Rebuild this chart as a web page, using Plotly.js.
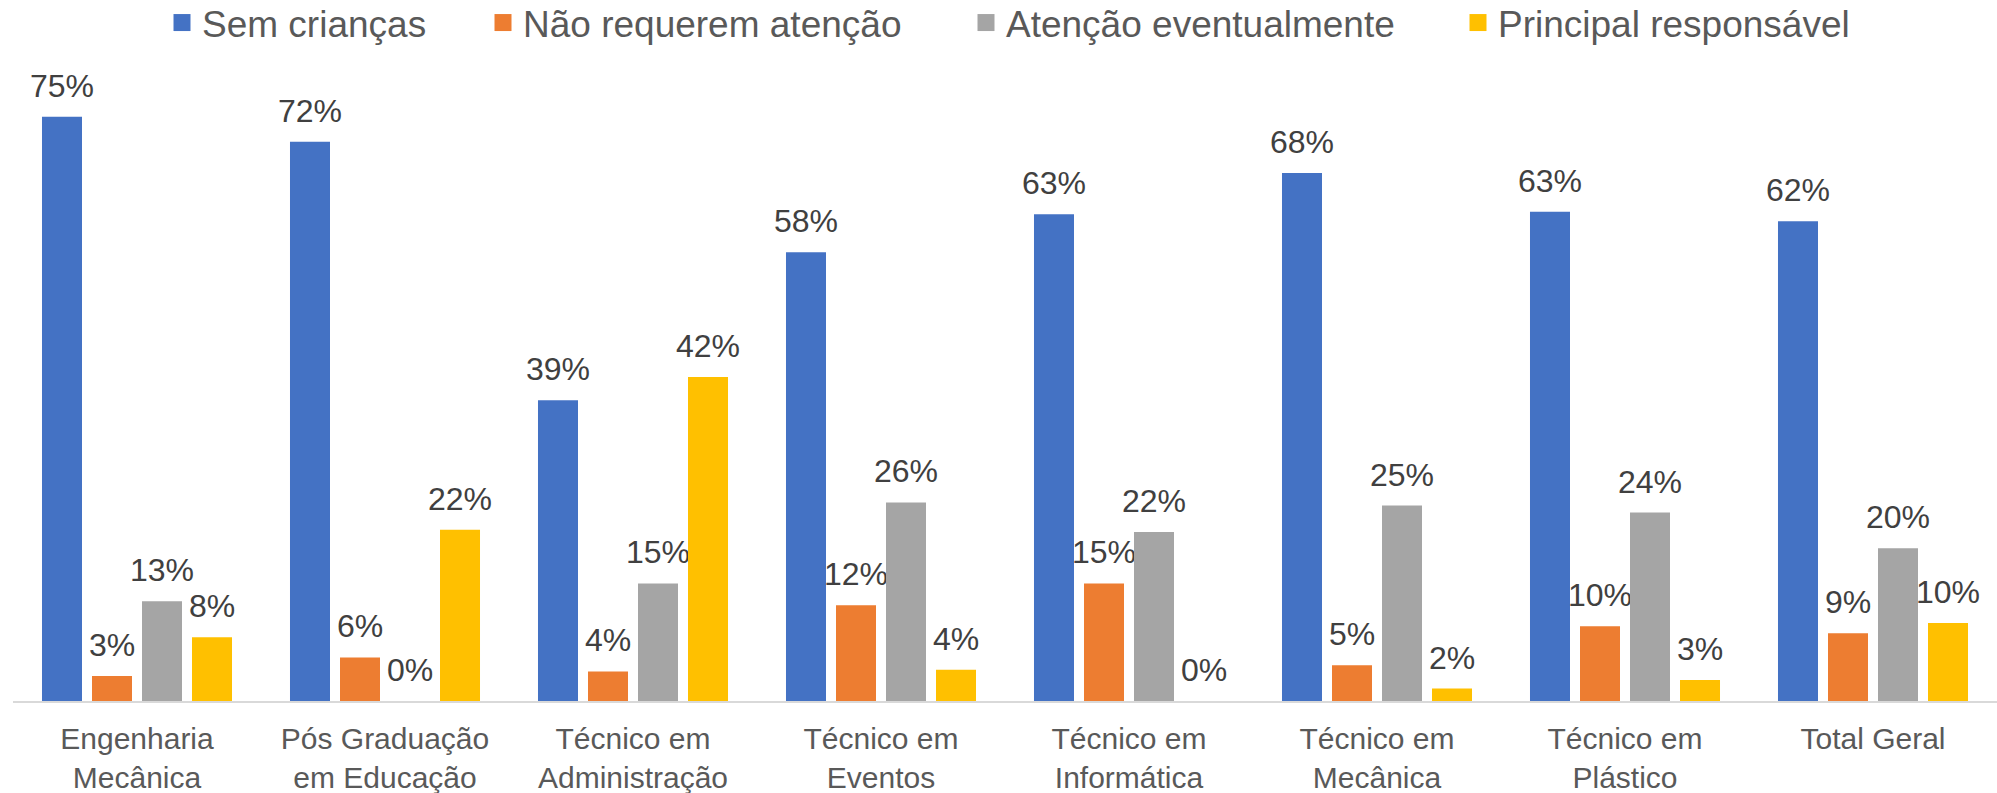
<!DOCTYPE html>
<html>
<head>
<meta charset="utf-8">
<script src="https://cdn.plot.ly/plotly-3.0.1.min.js"></script>
<style>
  html, body { margin: 0; padding: 0; background: #ffffff; }
  #chart { width: 1997px; height: 793px; }
</style>
</head>
<body>
<div id="chart"></div>
<script>
// Categories (x axis tick labels)
const categories = [
  "Engenharia<br>Mecânica",
  "Pós Graduação<br>em Educação",
  "Técnico em<br>Administração",
  "Técnico em<br>Eventos",
  "Técnico em<br>Informática",
  "Técnico em<br>Mecânica",
  "Técnico em<br>Plástico",
  "Total Geral"
];

// Series names
const seriesNames = ["Sem crianças", "Não requerem atenção", "Atenção eventualmente", "Principal responsável"];

// Series values (fractions)
const semCriancas          = [0.750, 0.718, 0.386, 0.576, 0.625, 0.678, 0.628, 0.616];
const naoRequeremAtencao   = [0.032, 0.056, 0.038, 0.123, 0.151, 0.046, 0.096, 0.087];
const atencaoEventualmente = [0.128, 0.000, 0.151, 0.255, 0.217, 0.251, 0.242, 0.196];
const principalResponsavel = [0.082, 0.220, 0.416, 0.040, 0.000, 0.016, 0.027, 0.100];

const seriesValues = [semCriancas, naoRequeremAtencao, atencaoEventualmente, principalResponsavel];
const colors = ["#4472C4", "#ED7D31", "#A5A5A5", "#FFC000"];
const legendIds = ["legend", "legend2", "legend3", "legend4"];

const FONT = "Liberation Sans, Arial, Helvetica, sans-serif";

const traces = seriesValues.map((vals, i) => ({
  type: "bar",
  name: seriesNames[i],
  x: categories,
  y: vals,
  marker: { color: colors[i] },
  texttemplate: "%{y:.0%}",
  textposition: "outside",
  constraintext: "none",
  cliponaxis: false,
  textfont: { family: FONT, size: 32, color: "#404040" },
  legend: legendIds[i],
  hoverinfo: "skip"
}));

// Plot area fills the page above the category labels (legend sits inside it)
const L = 13, R = 0, T = 0, B = 92, W = 1997, H = 793;
const pw = W - L - R, ph = H - T - B;
function px2x(p) { return (p - L) / pw; }
const legendY = (H - B - 23) / ph;
const legendTextStarts = [202, 523, 1006, 1498];

function mkLegend(i) {
  return {
    orientation: "h",
    x: px2x(legendTextStarts[i] - 40),
    xanchor: "left",
    y: legendY,
    yanchor: "middle",
    bgcolor: "rgba(0,0,0,0)",
    borderwidth: 0,
    font: { family: FONT, size: 37, color: "#595959" }
  };
}

const layout = {
  width: W,
  height: H,
  margin: { l: L, r: R, t: T, b: B, pad: 0, autoexpand: false },
  paper_bgcolor: "#ffffff",
  plot_bgcolor: "#ffffff",
  barmode: "group",
  bargap: 0.1935,
  bargroupgap: 0.2,
  showlegend: true,
  legend: mkLegend(0),
  legend2: mkLegend(1),
  legend3: mkLegend(2),
  legend4: mkLegend(3),
  xaxis: {
    type: "category",
    showline: true,
    linecolor: "#D9D9D9",
    linewidth: 1.5,
    showgrid: false,
    zeroline: false,
    ticks: "",
    tickfont: { family: FONT, size: 30, color: "#595959" },
    ticklabelstandoff: 10,
    fixedrange: true
  },
  yaxis: {
    visible: false,
    range: [0, 0.9],
    showgrid: false,
    zeroline: false,
    fixedrange: true
  }
};

Plotly.newPlot("chart", traces, layout, { displayModeBar: false, staticPlot: true }).then(function (gd) {
  // Larger legend swatches, as in the original chart
  gd.querySelectorAll("g.legendpoints path").forEach(function (p) {
    p.setAttribute("d", "M8.5,8.5H-8.5V-8.5H8.5Z");
  });
  // Lift the value labels a little further above the bars
  gd.querySelectorAll("g.points text.bartext").forEach(function (t) {
    const tr = t.getAttribute("transform") || "";
    t.setAttribute("transform", "translate(0,-10) " + tr);
  });
});
</script>
</body>
</html>
